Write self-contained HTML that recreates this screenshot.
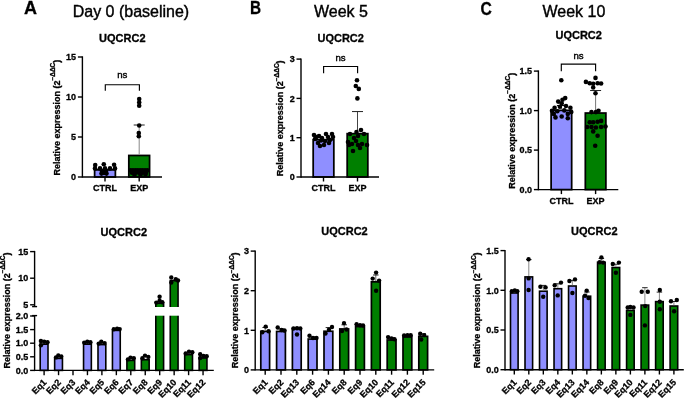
<!DOCTYPE html>
<html><head><meta charset="utf-8"><style>
html,body{margin:0;padding:0;background:#fff;width:685px;height:399px;overflow:hidden}
svg{display:block;will-change:transform}
text{font-family:"Liberation Sans", sans-serif;fill:#000}
text[font-weight=bold]{stroke:#000;stroke-width:0.3px}
text.t{stroke:#000;stroke-width:0.4px}
text.n{stroke:#000;stroke-width:0.4px}
</style></head><body>
<svg width="685" height="399" viewBox="0 0 685 399">
<rect x="94.62" y="169.88" width="20.75" height="7.12" fill="#8f8fff" stroke="#000" stroke-width="1.75"/>
<rect x="128.82" y="155.47" width="20.75" height="21.53" fill="#007f00" stroke="#000" stroke-width="1.75"/>
<line x1="139.2" y1="154.6" x2="139.2" y2="125" stroke="#888" stroke-width="1.0"/>
<line x1="133.7" y1="125" x2="144.7" y2="125" stroke="#222" stroke-width="1.0"/>
<circle cx="95.2" cy="165.1" r="2.3"/>
<circle cx="103.8" cy="164.3" r="2.3"/>
<circle cx="114.1" cy="164.8" r="2.3"/>
<circle cx="95" cy="168.4" r="2.3"/>
<circle cx="100" cy="168.4" r="2.3"/>
<circle cx="105" cy="168.4" r="2.3"/>
<circle cx="110" cy="168.4" r="2.3"/>
<circle cx="115" cy="168.4" r="2.3"/>
<circle cx="102" cy="171" r="2.3"/>
<circle cx="106" cy="171" r="2.3"/>
<circle cx="104" cy="173" r="2.3"/>
<circle cx="101.5" cy="173.6" r="2.3"/>
<circle cx="106.5" cy="173.6" r="2.3"/>
<circle cx="139.2" cy="99" r="2.3"/>
<circle cx="139.2" cy="102.4" r="2.3"/>
<circle cx="139.2" cy="105.8" r="2.3"/>
<circle cx="139.2" cy="125.5" r="2.3"/>
<circle cx="138.8" cy="133" r="2.3"/>
<circle cx="138.8" cy="136.3" r="2.3"/>
<circle cx="130.5" cy="170.2" r="2.3"/>
<circle cx="132.93" cy="170.2" r="2.3"/>
<circle cx="135.36" cy="170.2" r="2.3"/>
<circle cx="137.79" cy="170.2" r="2.3"/>
<circle cx="140.21" cy="170.2" r="2.3"/>
<circle cx="142.64" cy="170.2" r="2.3"/>
<circle cx="145.07" cy="170.2" r="2.3"/>
<circle cx="147.5" cy="170.2" r="2.3"/>
<circle cx="132" cy="172.8" r="2.3"/>
<circle cx="135.5" cy="172.8" r="2.3"/>
<circle cx="139" cy="172.8" r="2.3"/>
<circle cx="142.5" cy="172.8" r="2.3"/>
<circle cx="146" cy="172.8" r="2.3"/>
<circle cx="134.5" cy="174.9" r="2.3"/>
<circle cx="140.5" cy="175" r="2.3"/>
<circle cx="145.5" cy="174.8" r="2.3"/>
<line x1="82.4" y1="56.3" x2="82.4" y2="177.7" stroke="#000" stroke-width="1.4"/>
<line x1="77.9" y1="177" x2="82.4" y2="177" stroke="#000" stroke-width="1.4"/>
<text x="76.1" y="180.2" font-size="9" font-weight="bold" text-anchor="end" >0</text>
<line x1="77.9" y1="137" x2="82.4" y2="137" stroke="#000" stroke-width="1.4"/>
<text x="76.1" y="140.2" font-size="9" font-weight="bold" text-anchor="end" >5</text>
<line x1="77.9" y1="97" x2="82.4" y2="97" stroke="#000" stroke-width="1.4"/>
<text x="76.1" y="100.2" font-size="9" font-weight="bold" text-anchor="end" >10</text>
<line x1="77.9" y1="57" x2="82.4" y2="57" stroke="#000" stroke-width="1.4"/>
<text x="76.1" y="60.2" font-size="9" font-weight="bold" text-anchor="end" >15</text>
<line x1="82.4" y1="177" x2="162" y2="177" stroke="#000" stroke-width="1.4"/>
<line x1="105" y1="177" x2="105" y2="181.5" stroke="#000" stroke-width="1.4"/>
<line x1="139.2" y1="177" x2="139.2" y2="181.5" stroke="#000" stroke-width="1.4"/>
<text x="105" y="191.1" font-size="9" font-weight="bold" text-anchor="middle" >CTRL</text>
<text x="139.2" y="191.1" font-size="9" font-weight="bold" text-anchor="middle" >EXP</text>
<polyline points="105.3,90.8 105.3,84.7 139.4,84.7 139.4,90.8" fill="none" stroke="#000" stroke-width="1.15"/>
<text x="122.35" y="78.1" font-size="9.6" text-anchor="middle" class="n">ns</text>
<text transform="translate(59.8,175.6) rotate(-90)" font-size="9" font-weight="bold">Relative expression (2<tspan font-size="6.5" dy="-4.4">−ΔΔC</tspan><tspan dy="4.4">)</tspan></text>
<rect x="313.18" y="139.75" width="20.65" height="37.25" fill="#8f8fff" stroke="#000" stroke-width="1.75"/>
<rect x="347.18" y="133.66" width="20.65" height="43.34" fill="#007f00" stroke="#000" stroke-width="1.75"/>
<line x1="357.5" y1="132.79" x2="357.5" y2="111.57" stroke="#444" stroke-width="1.0"/>
<line x1="352" y1="111.57" x2="363" y2="111.57" stroke="#222" stroke-width="1.0"/>
<circle cx="314" cy="135" r="2.3"/>
<circle cx="319" cy="136" r="2.3"/>
<circle cx="326" cy="134" r="2.3"/>
<circle cx="332" cy="134" r="2.3"/>
<circle cx="315" cy="139" r="2.3"/>
<circle cx="322" cy="138" r="2.3"/>
<circle cx="328" cy="137" r="2.3"/>
<circle cx="320" cy="146" r="2.3"/>
<circle cx="324" cy="145" r="2.3"/>
<circle cx="318" cy="143" r="2.3"/>
<circle cx="330" cy="140" r="2.3"/>
<circle cx="333" cy="137" r="2.3"/>
<circle cx="316.5" cy="137" r="2.3"/>
<circle cx="325" cy="141" r="2.3"/>
<circle cx="321" cy="140.5" r="2.3"/>
<circle cx="329" cy="143" r="2.3"/>
<circle cx="357" cy="80.3" r="2.3"/>
<circle cx="355.8" cy="86" r="2.3"/>
<circle cx="358.8" cy="88.9" r="2.3"/>
<circle cx="357.4" cy="98.4" r="2.3"/>
<circle cx="350" cy="134" r="2.3"/>
<circle cx="354" cy="138" r="2.3"/>
<circle cx="358" cy="136" r="2.3"/>
<circle cx="361" cy="130" r="2.3"/>
<circle cx="364" cy="134" r="2.3"/>
<circle cx="348" cy="142" r="2.3"/>
<circle cx="352" cy="144" r="2.3"/>
<circle cx="358" cy="145" r="2.3"/>
<circle cx="362" cy="144" r="2.3"/>
<circle cx="367" cy="145" r="2.3"/>
<circle cx="353" cy="151" r="2.3"/>
<circle cx="360" cy="148" r="2.3"/>
<circle cx="349" cy="145" r="2.3"/>
<circle cx="356" cy="141" r="2.3"/>
<circle cx="356.5" cy="132" r="2.3"/>
<line x1="301" y1="58.4" x2="301" y2="177.7" stroke="#000" stroke-width="1.4"/>
<line x1="296.5" y1="177" x2="301" y2="177" stroke="#000" stroke-width="1.4"/>
<text x="294.7" y="180.2" font-size="9" font-weight="bold" text-anchor="end" >0</text>
<line x1="296.5" y1="137.7" x2="301" y2="137.7" stroke="#000" stroke-width="1.4"/>
<text x="294.7" y="140.9" font-size="9" font-weight="bold" text-anchor="end" >1</text>
<line x1="296.5" y1="98.4" x2="301" y2="98.4" stroke="#000" stroke-width="1.4"/>
<text x="294.7" y="101.6" font-size="9" font-weight="bold" text-anchor="end" >2</text>
<line x1="296.5" y1="59.1" x2="301" y2="59.1" stroke="#000" stroke-width="1.4"/>
<text x="294.7" y="62.3" font-size="9" font-weight="bold" text-anchor="end" >3</text>
<line x1="301" y1="177" x2="379" y2="177" stroke="#000" stroke-width="1.4"/>
<line x1="323.5" y1="177" x2="323.5" y2="181.5" stroke="#000" stroke-width="1.4"/>
<line x1="357.5" y1="177" x2="357.5" y2="181.5" stroke="#000" stroke-width="1.4"/>
<text x="323.5" y="191.1" font-size="9" font-weight="bold" text-anchor="middle" >CTRL</text>
<text x="357.5" y="191.1" font-size="9" font-weight="bold" text-anchor="middle" >EXP</text>
<polyline points="323.6,73.3 323.6,66.5 357.6,66.5 357.6,73.3" fill="none" stroke="#000" stroke-width="1.15"/>
<text x="340.6" y="61" font-size="9.6" text-anchor="middle" class="n">ns</text>
<text transform="translate(283.4,176.3) rotate(-90)" font-size="9" font-weight="bold">Relative expression (2<tspan font-size="6.5" dy="-4.4">−ΔΔC</tspan><tspan dy="4.4">)</tspan></text>
<rect x="551.12" y="110.37" width="20.55" height="79.23" fill="#8f8fff" stroke="#000" stroke-width="1.75"/>
<rect x="585.33" y="113.05" width="20.55" height="76.55" fill="#007f00" stroke="#000" stroke-width="1.75"/>
<line x1="561.4" y1="109.49" x2="561.4" y2="105.54" stroke="#777" stroke-width="1.0"/>
<line x1="556.9" y1="105.54" x2="565.9" y2="105.54" stroke="#000" stroke-width="1.0"/>
<line x1="595.6" y1="112.18" x2="595.6" y2="90.53" stroke="#777" stroke-width="1.0"/>
<line x1="590.1" y1="90.53" x2="601.1" y2="90.53" stroke="#222" stroke-width="1.0"/>
<circle cx="561.3" cy="80.2" r="2.3"/>
<circle cx="558.2" cy="101.6" r="2.3"/>
<circle cx="562.5" cy="99.8" r="2.3"/>
<circle cx="565.2" cy="98.1" r="2.3"/>
<circle cx="561.7" cy="103.3" r="2.3"/>
<circle cx="554.6" cy="107.7" r="2.3"/>
<circle cx="559.9" cy="106.8" r="2.3"/>
<circle cx="566" cy="106" r="2.3"/>
<circle cx="570.4" cy="107.7" r="2.3"/>
<circle cx="552" cy="110.7" r="2.3"/>
<circle cx="557.3" cy="111.2" r="2.3"/>
<circle cx="564.3" cy="110.4" r="2.3"/>
<circle cx="571.3" cy="112.1" r="2.3"/>
<circle cx="555.5" cy="117.4" r="2.3"/>
<circle cx="561.7" cy="116.5" r="2.3"/>
<circle cx="567.8" cy="118.2" r="2.3"/>
<circle cx="553.8" cy="113.9" r="2.3"/>
<circle cx="567.8" cy="113.9" r="2.3"/>
<circle cx="595.5" cy="77.9" r="2.3"/>
<circle cx="585.9" cy="81.9" r="2.3"/>
<circle cx="589.7" cy="83.2" r="2.3"/>
<circle cx="593.2" cy="83.7" r="2.3"/>
<circle cx="597.6" cy="83.2" r="2.3"/>
<circle cx="601.1" cy="83.5" r="2.3"/>
<circle cx="593.2" cy="87.5" r="2.3"/>
<circle cx="595.5" cy="93.2" r="2.3"/>
<circle cx="591.5" cy="112.1" r="2.3"/>
<circle cx="598.5" cy="110.7" r="2.3"/>
<circle cx="595.9" cy="112.1" r="2.3"/>
<circle cx="589.7" cy="122.3" r="2.3"/>
<circle cx="593.2" cy="122.3" r="2.3"/>
<circle cx="597.6" cy="121.8" r="2.3"/>
<circle cx="601.1" cy="120.9" r="2.3"/>
<circle cx="587.1" cy="127" r="2.3"/>
<circle cx="591.5" cy="127" r="2.3"/>
<circle cx="595.9" cy="127.5" r="2.3"/>
<circle cx="601.1" cy="127" r="2.3"/>
<circle cx="605.5" cy="126.5" r="2.3"/>
<circle cx="593.2" cy="131.4" r="2.3"/>
<circle cx="597.6" cy="135.8" r="2.3"/>
<circle cx="595.2" cy="145.8" r="2.3"/>
<line x1="538.4" y1="70.4" x2="538.4" y2="190.3" stroke="#000" stroke-width="1.4"/>
<line x1="533.9" y1="189.6" x2="538.4" y2="189.6" stroke="#000" stroke-width="1.4"/>
<text x="532.1" y="192.8" font-size="9" font-weight="bold" text-anchor="end" >0.0</text>
<line x1="533.9" y1="150.1" x2="538.4" y2="150.1" stroke="#000" stroke-width="1.4"/>
<text x="532.1" y="153.3" font-size="9" font-weight="bold" text-anchor="end" >0.5</text>
<line x1="533.9" y1="110.6" x2="538.4" y2="110.6" stroke="#000" stroke-width="1.4"/>
<text x="532.1" y="113.8" font-size="9" font-weight="bold" text-anchor="end" >1.0</text>
<line x1="533.9" y1="71.1" x2="538.4" y2="71.1" stroke="#000" stroke-width="1.4"/>
<text x="532.1" y="74.3" font-size="9" font-weight="bold" text-anchor="end" >1.5</text>
<line x1="538.4" y1="189.6" x2="618.3" y2="189.6" stroke="#000" stroke-width="1.4"/>
<line x1="561.4" y1="189.6" x2="561.4" y2="194.1" stroke="#000" stroke-width="1.4"/>
<line x1="595.6" y1="189.6" x2="595.6" y2="194.1" stroke="#000" stroke-width="1.4"/>
<text x="561.4" y="203.7" font-size="9" font-weight="bold" text-anchor="middle" >CTRL</text>
<text x="595.6" y="203.7" font-size="9" font-weight="bold" text-anchor="middle" >EXP</text>
<polyline points="561.3,71.2 561.3,64.2 595.6,64.2 595.6,71.2" fill="none" stroke="#000" stroke-width="1.15"/>
<text x="578.45" y="58.6" font-size="9.6" text-anchor="middle" class="n">ns</text>
<text transform="translate(514.8,188.7) rotate(-90)" font-size="9" font-weight="bold">Relative expression (2<tspan font-size="6.5" dy="-4.4">−ΔΔC</tspan><tspan dy="4.4">)</tspan></text>
<rect x="40.2" y="344.2" width="7.8" height="26.2" fill="#8f8fff" stroke="#000" stroke-width="1.6"/>
<rect x="54.65" y="358.4" width="7.8" height="12" fill="#8f8fff" stroke="#000" stroke-width="1.6"/>
<rect x="83.55" y="344.2" width="7.8" height="26.2" fill="#8f8fff" stroke="#000" stroke-width="1.6"/>
<rect x="98" y="344.6" width="7.8" height="25.8" fill="#8f8fff" stroke="#000" stroke-width="1.6"/>
<rect x="112.45" y="330.4" width="7.8" height="40" fill="#8f8fff" stroke="#000" stroke-width="1.6"/>
<rect x="126.9" y="360.4" width="7.8" height="10" fill="#007f00" stroke="#000" stroke-width="1.6"/>
<rect x="141.35" y="359.7" width="7.8" height="10.7" fill="#007f00" stroke="#000" stroke-width="1.6"/>
<rect x="155.8" y="303.2" width="7.8" height="67.2" fill="#007f00" stroke="#000" stroke-width="1.6"/>
<rect x="170.25" y="280.6" width="7.8" height="89.8" fill="#007f00" stroke="#000" stroke-width="1.6"/>
<rect x="184.7" y="354.6" width="7.8" height="15.8" fill="#007f00" stroke="#000" stroke-width="1.6"/>
<rect x="199.15" y="358" width="7.8" height="12.4" fill="#007f00" stroke="#000" stroke-width="1.6"/>
<circle cx="40.9" cy="341" r="2.2"/>
<circle cx="44.2" cy="341.7" r="2.2"/>
<circle cx="47.5" cy="342.3" r="2.2"/>
<circle cx="40.9" cy="345.2" r="2.2"/>
<circle cx="56" cy="357.4" r="2.2"/>
<circle cx="58.3" cy="355.5" r="2.2"/>
<circle cx="61.3" cy="356.5" r="2.2"/>
<circle cx="84.2" cy="342.6" r="2.2"/>
<circle cx="87.3" cy="341.8" r="2.2"/>
<circle cx="90.4" cy="342.3" r="2.2"/>
<circle cx="98.7" cy="343.6" r="2.2"/>
<circle cx="101.3" cy="341.7" r="2.2"/>
<circle cx="104.6" cy="343.1" r="2.2"/>
<circle cx="113.8" cy="329.3" r="2.2"/>
<circle cx="117.1" cy="328.7" r="2.2"/>
<circle cx="119.7" cy="329.1" r="2.2"/>
<circle cx="127.9" cy="359.4" r="2.2"/>
<circle cx="130.5" cy="357.6" r="2.2"/>
<circle cx="133.8" cy="358.2" r="2.2"/>
<circle cx="142.4" cy="358.2" r="2.2"/>
<circle cx="145" cy="355.6" r="2.2"/>
<circle cx="148.3" cy="356.9" r="2.2"/>
<circle cx="159.6" cy="296.8" r="2.2"/>
<circle cx="156.3" cy="302.6" r="2.2"/>
<circle cx="162.3" cy="302.3" r="2.2"/>
<circle cx="159.6" cy="300.8" r="2.2"/>
<circle cx="171.3" cy="277.5" r="2.2"/>
<circle cx="175.8" cy="279.3" r="2.2"/>
<circle cx="171.3" cy="282.6" r="2.2"/>
<circle cx="178" cy="280.5" r="2.2"/>
<circle cx="185.7" cy="353.4" r="2.2"/>
<circle cx="189" cy="351.7" r="2.2"/>
<circle cx="192.3" cy="352.3" r="2.2"/>
<circle cx="200.2" cy="354.3" r="2.2"/>
<circle cx="203.5" cy="356" r="2.2"/>
<circle cx="206.7" cy="356.3" r="2.2"/>
<circle cx="200.2" cy="358" r="2.2"/>
<rect x="35.6" y="307" width="180" height="8.7" fill="#fff"/>
<line x1="34.6" y1="250.9" x2="34.6" y2="306.6" stroke="#000" stroke-width="1.4"/>
<line x1="34.6" y1="315.6" x2="34.6" y2="371.1" stroke="#000" stroke-width="1.4"/>
<line x1="32.1" y1="306.6" x2="37.1" y2="306.6" stroke="#000" stroke-width="1.4"/>
<line x1="32.1" y1="315.6" x2="37.1" y2="315.6" stroke="#000" stroke-width="1.4"/>
<line x1="30.1" y1="304.8" x2="34.6" y2="304.8" stroke="#000" stroke-width="1.4"/>
<text x="28.3" y="308" font-size="9" font-weight="bold" text-anchor="end" >5</text>
<line x1="30.1" y1="278.2" x2="34.6" y2="278.2" stroke="#000" stroke-width="1.4"/>
<text x="28.3" y="281.4" font-size="9" font-weight="bold" text-anchor="end" >10</text>
<line x1="30.1" y1="251.6" x2="34.6" y2="251.6" stroke="#000" stroke-width="1.4"/>
<text x="28.3" y="254.8" font-size="9" font-weight="bold" text-anchor="end" >15</text>
<line x1="30.1" y1="370.4" x2="34.6" y2="370.4" stroke="#000" stroke-width="1.4"/>
<text x="28.3" y="373.6" font-size="9" font-weight="bold" text-anchor="end" >0.0</text>
<line x1="30.1" y1="356.8" x2="34.6" y2="356.8" stroke="#000" stroke-width="1.4"/>
<text x="28.3" y="360" font-size="9" font-weight="bold" text-anchor="end" >0.5</text>
<line x1="30.1" y1="343.2" x2="34.6" y2="343.2" stroke="#000" stroke-width="1.4"/>
<text x="28.3" y="346.4" font-size="9" font-weight="bold" text-anchor="end" >1.0</text>
<line x1="30.1" y1="329.6" x2="34.6" y2="329.6" stroke="#000" stroke-width="1.4"/>
<text x="28.3" y="332.8" font-size="9" font-weight="bold" text-anchor="end" >1.5</text>
<line x1="30.1" y1="316" x2="34.6" y2="316" stroke="#000" stroke-width="1.4"/>
<text x="28.3" y="319.2" font-size="9" font-weight="bold" text-anchor="end" >2.0</text>
<line x1="34.6" y1="370.4" x2="213.8" y2="370.4" stroke="#000" stroke-width="1.4"/>
<line x1="44.1" y1="370.4" x2="44.1" y2="375.2" stroke="#000" stroke-width="1.4"/>
<line x1="58.55" y1="370.4" x2="58.55" y2="375.2" stroke="#000" stroke-width="1.4"/>
<line x1="73" y1="370.4" x2="73" y2="375.2" stroke="#000" stroke-width="1.4"/>
<line x1="87.45" y1="370.4" x2="87.45" y2="375.2" stroke="#000" stroke-width="1.4"/>
<line x1="101.9" y1="370.4" x2="101.9" y2="375.2" stroke="#000" stroke-width="1.4"/>
<line x1="116.35" y1="370.4" x2="116.35" y2="375.2" stroke="#000" stroke-width="1.4"/>
<line x1="130.8" y1="370.4" x2="130.8" y2="375.2" stroke="#000" stroke-width="1.4"/>
<line x1="145.25" y1="370.4" x2="145.25" y2="375.2" stroke="#000" stroke-width="1.4"/>
<line x1="159.7" y1="370.4" x2="159.7" y2="375.2" stroke="#000" stroke-width="1.4"/>
<line x1="174.15" y1="370.4" x2="174.15" y2="375.2" stroke="#000" stroke-width="1.4"/>
<line x1="188.6" y1="370.4" x2="188.6" y2="375.2" stroke="#000" stroke-width="1.4"/>
<line x1="203.05" y1="370.4" x2="203.05" y2="375.2" stroke="#000" stroke-width="1.4"/>
<text transform="translate(47.1,383) rotate(-45)" font-size="9" font-weight="bold" text-anchor="end">Eq1</text>
<text transform="translate(61.55,383) rotate(-45)" font-size="9" font-weight="bold" text-anchor="end">Eq2</text>
<text transform="translate(76,383) rotate(-45)" font-size="9" font-weight="bold" text-anchor="end">Eq3</text>
<text transform="translate(90.45,383) rotate(-45)" font-size="9" font-weight="bold" text-anchor="end">Eq4</text>
<text transform="translate(104.9,383) rotate(-45)" font-size="9" font-weight="bold" text-anchor="end">Eq5</text>
<text transform="translate(119.35,383) rotate(-45)" font-size="9" font-weight="bold" text-anchor="end">Eq6</text>
<text transform="translate(133.8,383) rotate(-45)" font-size="9" font-weight="bold" text-anchor="end">Eq7</text>
<text transform="translate(148.25,383) rotate(-45)" font-size="9" font-weight="bold" text-anchor="end">Eq8</text>
<text transform="translate(162.7,383) rotate(-45)" font-size="9" font-weight="bold" text-anchor="end">Eq9</text>
<text transform="translate(177.15,383) rotate(-45)" font-size="9" font-weight="bold" text-anchor="end">Eq10</text>
<text transform="translate(191.6,383) rotate(-45)" font-size="9" font-weight="bold" text-anchor="end">Eq11</text>
<text transform="translate(206.05,383) rotate(-45)" font-size="9" font-weight="bold" text-anchor="end">Eq12</text>
<text x="123.8" y="235.7" font-size="11" font-weight="bold" text-anchor="middle" >UQCRC2</text>
<text transform="translate(9.7,368.4) rotate(-90)" font-size="9" font-weight="bold">Relative expression (2<tspan font-size="6.5" dy="-4.4">−ΔΔC</tspan><tspan dy="4.4">)</tspan></text>
<rect x="260.8" y="331.35" width="8.8" height="38.55" fill="#8f8fff" stroke="#000" stroke-width="1.7"/>
<rect x="276.6" y="331.45" width="8.8" height="38.45" fill="#8f8fff" stroke="#000" stroke-width="1.7"/>
<rect x="292.4" y="328.45" width="8.8" height="41.45" fill="#8f8fff" stroke="#000" stroke-width="1.7"/>
<rect x="308.2" y="339.05" width="8.8" height="30.85" fill="#8f8fff" stroke="#000" stroke-width="1.7"/>
<rect x="324" y="331.25" width="8.8" height="38.65" fill="#8f8fff" stroke="#000" stroke-width="1.7"/>
<rect x="339.8" y="328.95" width="8.8" height="40.95" fill="#007f00" stroke="#000" stroke-width="1.7"/>
<rect x="355.6" y="326.55" width="8.8" height="43.35" fill="#007f00" stroke="#000" stroke-width="1.7"/>
<rect x="371.4" y="281.85" width="8.8" height="88.05" fill="#007f00" stroke="#000" stroke-width="1.7"/>
<rect x="387.2" y="339.95" width="8.8" height="29.95" fill="#007f00" stroke="#000" stroke-width="1.7"/>
<rect x="403" y="336.95" width="8.8" height="32.95" fill="#007f00" stroke="#000" stroke-width="1.7"/>
<rect x="418.8" y="336.35" width="8.8" height="33.55" fill="#007f00" stroke="#000" stroke-width="1.7"/>
<line x1="265.2" y1="330.5" x2="265.2" y2="327.5" stroke="#666" stroke-width="1.0"/>
<line x1="262.45" y1="327.5" x2="267.95" y2="327.5" stroke="#222" stroke-width="1.0"/>
<circle cx="265.7" cy="326.6" r="2.2"/>
<circle cx="262.3" cy="332.2" r="2.2"/>
<circle cx="268.6" cy="331.2" r="2.2"/>
<line x1="281" y1="330.6" x2="281" y2="328.8" stroke="#666" stroke-width="1.0"/>
<line x1="278.25" y1="328.8" x2="283.75" y2="328.8" stroke="#222" stroke-width="1.0"/>
<circle cx="277.7" cy="327.5" r="2.2"/>
<circle cx="281.5" cy="330" r="2.2"/>
<circle cx="284.5" cy="330.5" r="2.2"/>
<circle cx="293.5" cy="328.5" r="2.2"/>
<circle cx="297" cy="328.3" r="2.2"/>
<circle cx="300.3" cy="328.5" r="2.2"/>
<circle cx="297" cy="334.5" r="2.2"/>
<line x1="312.6" y1="338.2" x2="312.6" y2="336.8" stroke="#666" stroke-width="1.0"/>
<line x1="309.85" y1="336.8" x2="315.35" y2="336.8" stroke="#222" stroke-width="1.0"/>
<circle cx="309.5" cy="335.7" r="2.2"/>
<circle cx="313" cy="338" r="2.2"/>
<circle cx="316.5" cy="338" r="2.2"/>
<line x1="328.4" y1="330.4" x2="328.4" y2="327.6" stroke="#666" stroke-width="1.0"/>
<line x1="325.65" y1="327.6" x2="331.15" y2="327.6" stroke="#222" stroke-width="1.0"/>
<circle cx="325.5" cy="333.5" r="2.2"/>
<circle cx="329" cy="329.8" r="2.2"/>
<circle cx="332" cy="327" r="2.2"/>
<line x1="344.2" y1="328.1" x2="344.2" y2="324.8" stroke="#666" stroke-width="1.0"/>
<line x1="341.45" y1="324.8" x2="346.95" y2="324.8" stroke="#222" stroke-width="1.0"/>
<circle cx="344" cy="323.1" r="2.2"/>
<circle cx="342" cy="331.1" r="2.2"/>
<circle cx="346.5" cy="329.5" r="2.2"/>
<line x1="360" y1="325.7" x2="360" y2="324.5" stroke="#666" stroke-width="1.0"/>
<line x1="357.25" y1="324.5" x2="362.75" y2="324.5" stroke="#222" stroke-width="1.0"/>
<circle cx="356.6" cy="324.3" r="2.2"/>
<circle cx="360" cy="325.2" r="2.2"/>
<circle cx="363" cy="325.5" r="2.2"/>
<line x1="375.8" y1="281" x2="375.8" y2="275" stroke="#666" stroke-width="1.0"/>
<line x1="373.05" y1="275" x2="378.55" y2="275" stroke="#222" stroke-width="1.0"/>
<circle cx="376.1" cy="272.6" r="2.2"/>
<circle cx="372.7" cy="278.6" r="2.2"/>
<circle cx="379.1" cy="280.6" r="2.2"/>
<circle cx="376.1" cy="290.7" r="2.2"/>
<line x1="391.6" y1="339.1" x2="391.6" y2="337.8" stroke="#666" stroke-width="1.0"/>
<line x1="388.85" y1="337.8" x2="394.35" y2="337.8" stroke="#222" stroke-width="1.0"/>
<circle cx="388.1" cy="337.1" r="2.2"/>
<circle cx="391.5" cy="338.5" r="2.2"/>
<circle cx="394.5" cy="339.3" r="2.2"/>
<circle cx="404.1" cy="335.5" r="2.2"/>
<circle cx="407.5" cy="335.3" r="2.2"/>
<circle cx="410.7" cy="335.3" r="2.2"/>
<line x1="423.2" y1="335.5" x2="423.2" y2="333.8" stroke="#666" stroke-width="1.0"/>
<line x1="420.45" y1="333.8" x2="425.95" y2="333.8" stroke="#222" stroke-width="1.0"/>
<circle cx="420.2" cy="333.7" r="2.2"/>
<circle cx="424.2" cy="335.1" r="2.2"/>
<circle cx="421.2" cy="339.5" r="2.2"/>
<line x1="255.2" y1="250.4" x2="255.2" y2="370.6" stroke="#000" stroke-width="1.4"/>
<line x1="250.7" y1="369.9" x2="255.2" y2="369.9" stroke="#000" stroke-width="1.4"/>
<text x="248.9" y="373.1" font-size="9" font-weight="bold" text-anchor="end" >0</text>
<line x1="250.7" y1="330.3" x2="255.2" y2="330.3" stroke="#000" stroke-width="1.4"/>
<text x="248.9" y="333.5" font-size="9" font-weight="bold" text-anchor="end" >1</text>
<line x1="250.7" y1="290.7" x2="255.2" y2="290.7" stroke="#000" stroke-width="1.4"/>
<text x="248.9" y="293.9" font-size="9" font-weight="bold" text-anchor="end" >2</text>
<line x1="250.7" y1="251.1" x2="255.2" y2="251.1" stroke="#000" stroke-width="1.4"/>
<text x="248.9" y="254.3" font-size="9" font-weight="bold" text-anchor="end" >3</text>
<line x1="255.2" y1="369.9" x2="434.2" y2="369.9" stroke="#000" stroke-width="1.4"/>
<line x1="265.2" y1="369.9" x2="265.2" y2="374.7" stroke="#000" stroke-width="1.4"/>
<line x1="281" y1="369.9" x2="281" y2="374.7" stroke="#000" stroke-width="1.4"/>
<line x1="296.8" y1="369.9" x2="296.8" y2="374.7" stroke="#000" stroke-width="1.4"/>
<line x1="312.6" y1="369.9" x2="312.6" y2="374.7" stroke="#000" stroke-width="1.4"/>
<line x1="328.4" y1="369.9" x2="328.4" y2="374.7" stroke="#000" stroke-width="1.4"/>
<line x1="344.2" y1="369.9" x2="344.2" y2="374.7" stroke="#000" stroke-width="1.4"/>
<line x1="360" y1="369.9" x2="360" y2="374.7" stroke="#000" stroke-width="1.4"/>
<line x1="375.8" y1="369.9" x2="375.8" y2="374.7" stroke="#000" stroke-width="1.4"/>
<line x1="391.6" y1="369.9" x2="391.6" y2="374.7" stroke="#000" stroke-width="1.4"/>
<line x1="407.4" y1="369.9" x2="407.4" y2="374.7" stroke="#000" stroke-width="1.4"/>
<line x1="423.2" y1="369.9" x2="423.2" y2="374.7" stroke="#000" stroke-width="1.4"/>
<text transform="translate(268.2,383) rotate(-45)" font-size="9" font-weight="bold" text-anchor="end">Eq1</text>
<text transform="translate(284,383) rotate(-45)" font-size="9" font-weight="bold" text-anchor="end">Eq2</text>
<text transform="translate(299.8,383) rotate(-45)" font-size="9" font-weight="bold" text-anchor="end">Eq13</text>
<text transform="translate(315.6,383) rotate(-45)" font-size="9" font-weight="bold" text-anchor="end">Eq6</text>
<text transform="translate(331.4,383) rotate(-45)" font-size="9" font-weight="bold" text-anchor="end">Eq14</text>
<text transform="translate(347.2,383) rotate(-45)" font-size="9" font-weight="bold" text-anchor="end">Eq8</text>
<text transform="translate(363,383) rotate(-45)" font-size="9" font-weight="bold" text-anchor="end">Eq9</text>
<text transform="translate(378.8,383) rotate(-45)" font-size="9" font-weight="bold" text-anchor="end">Eq10</text>
<text transform="translate(394.6,383) rotate(-45)" font-size="9" font-weight="bold" text-anchor="end">Eq11</text>
<text transform="translate(410.4,383) rotate(-45)" font-size="9" font-weight="bold" text-anchor="end">Eq12</text>
<text transform="translate(426.2,383) rotate(-45)" font-size="9" font-weight="bold" text-anchor="end">Eq15</text>
<text x="344.5" y="235" font-size="11" font-weight="bold" text-anchor="middle" >UQCRC2</text>
<text transform="translate(238,368.3) rotate(-90)" font-size="9" font-weight="bold">Relative expression (2<tspan font-size="6.5" dy="-4.4">−ΔΔC</tspan><tspan dy="4.4">)</tspan></text>
<rect x="510.5" y="293" width="7.6" height="76.7" fill="#8f8fff" stroke="#000" stroke-width="1.6"/>
<rect x="525.01" y="276.9" width="7.6" height="92.8" fill="#8f8fff" stroke="#000" stroke-width="1.6"/>
<rect x="539.52" y="291.2" width="7.6" height="78.5" fill="#8f8fff" stroke="#000" stroke-width="1.6"/>
<rect x="554.03" y="288.7" width="7.6" height="81" fill="#8f8fff" stroke="#000" stroke-width="1.6"/>
<rect x="568.54" y="286" width="7.6" height="83.7" fill="#8f8fff" stroke="#000" stroke-width="1.6"/>
<rect x="583.05" y="296.2" width="7.6" height="73.5" fill="#8f8fff" stroke="#000" stroke-width="1.6"/>
<rect x="597.56" y="262.2" width="7.6" height="107.5" fill="#007f00" stroke="#000" stroke-width="1.6"/>
<rect x="612.07" y="267.5" width="7.6" height="102.2" fill="#007f00" stroke="#000" stroke-width="1.6"/>
<rect x="626.58" y="310.4" width="7.6" height="59.3" fill="#007f00" stroke="#000" stroke-width="1.6"/>
<rect x="641.09" y="305.1" width="7.6" height="64.6" fill="#007f00" stroke="#000" stroke-width="1.6"/>
<rect x="655.6" y="301.6" width="7.6" height="68.1" fill="#007f00" stroke="#000" stroke-width="1.6"/>
<rect x="670.11" y="306" width="7.6" height="63.7" fill="#007f00" stroke="#000" stroke-width="1.6"/>
<circle cx="511.8" cy="291.2" r="2.2"/>
<circle cx="514.8" cy="290.4" r="2.2"/>
<circle cx="517.3" cy="291.2" r="2.2"/>
<line x1="528.81" y1="276.1" x2="528.81" y2="259.6" stroke="#888" stroke-width="1.0"/>
<line x1="526.06" y1="259.6" x2="531.56" y2="259.6" stroke="#222" stroke-width="1.0"/>
<circle cx="528.6" cy="259.3" r="2.2"/>
<circle cx="528.6" cy="278.4" r="2.2"/>
<circle cx="528.6" cy="290" r="2.2"/>
<line x1="543.32" y1="290.4" x2="543.32" y2="285.4" stroke="#888" stroke-width="1.0"/>
<line x1="540.57" y1="285.4" x2="546.07" y2="285.4" stroke="#222" stroke-width="1.0"/>
<circle cx="540.4" cy="286.7" r="2.2"/>
<circle cx="545.6" cy="287.4" r="2.2"/>
<circle cx="543.2" cy="296.7" r="2.2"/>
<line x1="557.83" y1="287.9" x2="557.83" y2="283.8" stroke="#888" stroke-width="1.0"/>
<line x1="555.08" y1="283.8" x2="560.58" y2="283.8" stroke="#222" stroke-width="1.0"/>
<circle cx="554.7" cy="285.3" r="2.2"/>
<circle cx="561" cy="282.6" r="2.2"/>
<circle cx="557.7" cy="295.4" r="2.2"/>
<line x1="572.34" y1="285.2" x2="572.34" y2="280.4" stroke="#888" stroke-width="1.0"/>
<line x1="569.59" y1="280.4" x2="575.09" y2="280.4" stroke="#222" stroke-width="1.0"/>
<circle cx="569.4" cy="281" r="2.2"/>
<circle cx="575" cy="279.4" r="2.2"/>
<circle cx="572.4" cy="293" r="2.2"/>
<line x1="586.85" y1="295.4" x2="586.85" y2="292" stroke="#888" stroke-width="1.0"/>
<line x1="584.1" y1="292" x2="589.6" y2="292" stroke="#222" stroke-width="1.0"/>
<circle cx="586.7" cy="290.6" r="2.2"/>
<circle cx="585" cy="295.7" r="2.2"/>
<circle cx="588.5" cy="298" r="2.2"/>
<line x1="601.36" y1="261.4" x2="601.36" y2="258.5" stroke="#888" stroke-width="1.0"/>
<line x1="598.61" y1="258.5" x2="604.11" y2="258.5" stroke="#222" stroke-width="1.0"/>
<circle cx="601.4" cy="257.4" r="2.2"/>
<circle cx="599.6" cy="262.3" r="2.2"/>
<circle cx="603.1" cy="262.6" r="2.2"/>
<line x1="615.87" y1="266.7" x2="615.87" y2="264.2" stroke="#888" stroke-width="1.0"/>
<line x1="613.12" y1="264.2" x2="618.62" y2="264.2" stroke="#222" stroke-width="1.0"/>
<circle cx="612.8" cy="264" r="2.2"/>
<circle cx="618.9" cy="262.6" r="2.2"/>
<circle cx="615.9" cy="272.8" r="2.2"/>
<line x1="630.38" y1="309.6" x2="630.38" y2="307.2" stroke="#888" stroke-width="1.0"/>
<line x1="627.63" y1="307.2" x2="633.13" y2="307.2" stroke="#222" stroke-width="1.0"/>
<circle cx="627.7" cy="307.5" r="2.2"/>
<circle cx="630.3" cy="307" r="2.2"/>
<circle cx="633.5" cy="307.5" r="2.2"/>
<circle cx="630.3" cy="314.9" r="2.2"/>
<line x1="644.89" y1="304.3" x2="644.89" y2="287.7" stroke="#888" stroke-width="1.0"/>
<line x1="642.14" y1="287.7" x2="647.64" y2="287.7" stroke="#222" stroke-width="1.0"/>
<circle cx="641.7" cy="291.7" r="2.2"/>
<circle cx="647.8" cy="291.7" r="2.2"/>
<circle cx="645.2" cy="306.1" r="2.2"/>
<circle cx="644.9" cy="325.4" r="2.2"/>
<line x1="659.4" y1="300.8" x2="659.4" y2="292.1" stroke="#888" stroke-width="1.0"/>
<line x1="656.65" y1="292.1" x2="662.15" y2="292.1" stroke="#222" stroke-width="1.0"/>
<circle cx="659.8" cy="290" r="2.2"/>
<circle cx="659.8" cy="301.7" r="2.2"/>
<circle cx="659.8" cy="309.2" r="2.2"/>
<line x1="673.91" y1="305.2" x2="673.91" y2="301.5" stroke="#888" stroke-width="1.0"/>
<line x1="671.16" y1="301.5" x2="676.66" y2="301.5" stroke="#222" stroke-width="1.0"/>
<circle cx="671" cy="301.2" r="2.2"/>
<circle cx="676.8" cy="300" r="2.2"/>
<circle cx="674.1" cy="311.3" r="2.2"/>
<line x1="505" y1="249.9" x2="505" y2="370.4" stroke="#000" stroke-width="1.4"/>
<line x1="500.5" y1="369.7" x2="505" y2="369.7" stroke="#000" stroke-width="1.4"/>
<text x="498.7" y="372.9" font-size="9" font-weight="bold" text-anchor="end" >0.0</text>
<line x1="500.5" y1="330" x2="505" y2="330" stroke="#000" stroke-width="1.4"/>
<text x="498.7" y="333.2" font-size="9" font-weight="bold" text-anchor="end" >0.5</text>
<line x1="500.5" y1="290.3" x2="505" y2="290.3" stroke="#000" stroke-width="1.4"/>
<text x="498.7" y="293.5" font-size="9" font-weight="bold" text-anchor="end" >1.0</text>
<line x1="500.5" y1="250.6" x2="505" y2="250.6" stroke="#000" stroke-width="1.4"/>
<text x="498.7" y="253.8" font-size="9" font-weight="bold" text-anchor="end" >1.5</text>
<line x1="505" y1="369.7" x2="683.8" y2="369.7" stroke="#000" stroke-width="1.4"/>
<line x1="514.3" y1="369.7" x2="514.3" y2="374.5" stroke="#000" stroke-width="1.4"/>
<line x1="528.81" y1="369.7" x2="528.81" y2="374.5" stroke="#000" stroke-width="1.4"/>
<line x1="543.32" y1="369.7" x2="543.32" y2="374.5" stroke="#000" stroke-width="1.4"/>
<line x1="557.83" y1="369.7" x2="557.83" y2="374.5" stroke="#000" stroke-width="1.4"/>
<line x1="572.34" y1="369.7" x2="572.34" y2="374.5" stroke="#000" stroke-width="1.4"/>
<line x1="586.85" y1="369.7" x2="586.85" y2="374.5" stroke="#000" stroke-width="1.4"/>
<line x1="601.36" y1="369.7" x2="601.36" y2="374.5" stroke="#000" stroke-width="1.4"/>
<line x1="615.87" y1="369.7" x2="615.87" y2="374.5" stroke="#000" stroke-width="1.4"/>
<line x1="630.38" y1="369.7" x2="630.38" y2="374.5" stroke="#000" stroke-width="1.4"/>
<line x1="644.89" y1="369.7" x2="644.89" y2="374.5" stroke="#000" stroke-width="1.4"/>
<line x1="659.4" y1="369.7" x2="659.4" y2="374.5" stroke="#000" stroke-width="1.4"/>
<line x1="673.91" y1="369.7" x2="673.91" y2="374.5" stroke="#000" stroke-width="1.4"/>
<text transform="translate(517.3,383) rotate(-45)" font-size="9" font-weight="bold" text-anchor="end">Eq1</text>
<text transform="translate(531.81,383) rotate(-45)" font-size="9" font-weight="bold" text-anchor="end">Eq2</text>
<text transform="translate(546.32,383) rotate(-45)" font-size="9" font-weight="bold" text-anchor="end">Eq3</text>
<text transform="translate(560.83,383) rotate(-45)" font-size="9" font-weight="bold" text-anchor="end">Eq4</text>
<text transform="translate(575.34,383) rotate(-45)" font-size="9" font-weight="bold" text-anchor="end">Eq13</text>
<text transform="translate(589.85,383) rotate(-45)" font-size="9" font-weight="bold" text-anchor="end">Eq14</text>
<text transform="translate(604.36,383) rotate(-45)" font-size="9" font-weight="bold" text-anchor="end">Eq8</text>
<text transform="translate(618.87,383) rotate(-45)" font-size="9" font-weight="bold" text-anchor="end">Eq9</text>
<text transform="translate(633.38,383) rotate(-45)" font-size="9" font-weight="bold" text-anchor="end">Eq10</text>
<text transform="translate(647.89,383) rotate(-45)" font-size="9" font-weight="bold" text-anchor="end">Eq11</text>
<text transform="translate(662.4,383) rotate(-45)" font-size="9" font-weight="bold" text-anchor="end">Eq12</text>
<text transform="translate(676.91,383) rotate(-45)" font-size="9" font-weight="bold" text-anchor="end">Eq15</text>
<text x="594.3" y="234.6" font-size="11" font-weight="bold" text-anchor="middle" >UQCRC2</text>
<text transform="translate(480.4,368.3) rotate(-90)" font-size="9" font-weight="bold">Relative expression (2<tspan font-size="6.5" dy="-4.4">−ΔΔC</tspan><tspan dy="4.4">)</tspan></text>
<text x="24" y="13.8" font-size="18" font-weight="bold" text-anchor="start" >A</text>
<text transform="translate(250,13.8) scale(0.85,1)" font-size="18" font-weight="bold">B</text>
<text transform="translate(480.4,14.6) scale(0.87,1.04)" font-size="18" font-weight="bold">C</text>
<text x="72.7" y="16.8" font-size="16" text-anchor="start" class="t">Day 0 (baseline)</text>
<text x="314" y="16.8" font-size="16" text-anchor="start" class="t">Week 5</text>
<text x="542.5" y="16.9" font-size="16" text-anchor="start" class="t">Week 10</text>
<text x="122.3" y="42.3" font-size="11" font-weight="bold" text-anchor="middle" >UQCRC2</text>
<text x="340.7" y="42.3" font-size="11" font-weight="bold" text-anchor="middle" >UQCRC2</text>
<text x="578.7" y="38.8" font-size="11" font-weight="bold" text-anchor="middle" >UQCRC2</text>
</svg>
</body></html>
